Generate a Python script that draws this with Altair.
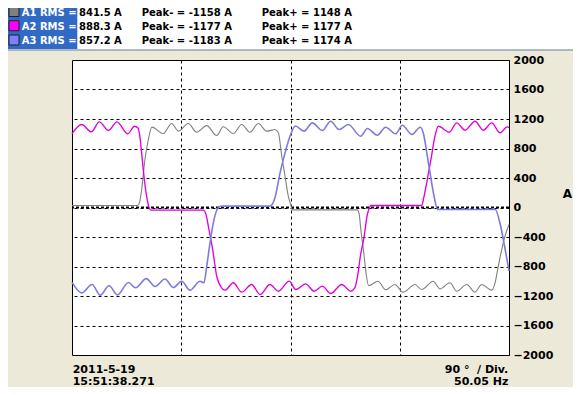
import altair as alt
import pandas as pd

# ---------------- data ----------------
names = ["A1", "A2", "A3"]
row_labels = ["A1 RMS =", "A2 RMS =", "A3 RMS ="]
rms_values = [841.5, 888.3, 857.2]
peak_minus = [-1158, -1177, -1183]
peak_plus = [1148, 1177, 1174]

y_ticks = list(range(-2000, 2001, 400))
x_grid = [90, 180, 270]

date_txt = "2011-5-19"
time_txt = "15:51:38.271"
div_txt = "90 \u00b0\u00a0\u00a0/ Div."
freq_txt = "50.05 Hz"
unit_txt = "A"

# phase angle (degrees) and current (A)
a1_deg = [0, 54, 55.5, 57.4, 60.1, 62.9, 65.8, 75.2, 82.1, 87.6, 95.8, 102.7, 111, 119.2,
          124.6, 132.9, 139.8, 146.6, 153.5, 160.4, 167.2, 170, 172.8, 175.5, 178.2, 180.1,
          181.5, 235, 236.5, 237.8, 240.5, 242.4, 244.4, 252, 258.5, 266, 272.7, 282.6, 288,
          297.6, 303.1, 311.4, 316.9, 325.2, 332, 337.5, 345.8, 348.5, 351.2, 354, 356.7, 360]
a1_amp = [27, 27, 60, 244, 651, 922, 1090, 1003, 1139, 1035, 1139, 1021, 1110, 976,
          1094, 1003, 1125, 1021, 1139, 1035, 1057, 1013, 696, 424, 153, 41,
          -32, -32, -80, -276, -637, -908, -1060, -1000, -1115, -1044, -1150, -1044, -1112,
          -999, -1103, -1021, -1135, -1044, -1148, -1044, -1121, -1021, -796, -570, -389, -231]

a2_deg = [0, 8, 16, 22.5, 30, 37, 46, 51.5, 54.5, 56, 57.5, 59.3, 61.5, 63.5, 65,
          108.2, 110.5, 112.3, 115.9, 119.2, 123.3, 126, 132.9, 139.8, 148, 154.9, 163.1,
          170, 179, 184.3, 192.5, 199.4, 206.3, 213.1, 222.2, 229.6, 233, 235, 237.8, 240.5,
          243.3, 245.2, 246.5, 288, 290, 292.2, 295.7, 299, 301.8, 310.8, 316.9, 323.8, 332,
          338.8, 345.8, 352.6, 358.6, 360]
a2_amp = [1000, 1125, 1026, 1162, 1044, 1162, 999, 1102, 1075, 950, 720, 424, 150, 0, -36,
          -36, -100, -253, -570, -931, -1089, -1121, -1021, -1148, -1044, -1180, -1044,
          -1135, -999, -1112, -1035, -1135, -1067, -1166, -1044, -1135, -1090, -954, -637, -411,
          -95, 4, 27, 27, 150, 335, 651, 967, 1102, 1021, 1148, 1048, 1170,
          1048, 1148, 1013, 1094, 1080]

a3_deg = [0, 8, 16.5, 23.3, 30.5, 37.5, 46.5, 52.3, 61.2, 68.4, 76.6, 83.5, 90.4, 97.2,
          105.5, 108.7, 111, 113.7, 116.4, 120.5, 123.3, 163.1, 167.2, 171.4, 175.5, 179.6,
          184, 191.1, 198, 206.2, 213.1, 220, 227.6, 237.8, 243.3, 251.5, 258.4, 266.6, 272.1,
          280.1, 286.9, 289.7, 292.5, 295.2, 298, 301.3, 348.7, 352.8, 356.1, 360]
a3_amp = [-1015, -1157, -1044, -1189, -1062, -1185, -1017, -1089, -965, -1071, -970, -1085,
          -1000, -1121, -999, -1021, -796, -479, -208, -4, 18, 18, 131, 470, 741, 967,
          1105, 1035, 1148, 1044, 1170, 1057, 1125, 967, 1071, 980, 1089, 999, 1116,
          990, 1089, 990, 719, 447, 176, -27, -27, -231, -502, -860]

# ---------------- styles ----------------
line_colors = ["#808080", "#E000E0", "#7C7CDC"]
swatch_colors = ["#808080", "#FF00FF", "#8080FF"]
FONT = "DejaVu Sans"

wave = pd.concat([
    pd.DataFrame({"deg": d, "amp": a, "ch": n})
    for d, a, n in [(a1_deg, a1_amp, "A1"), (a2_deg, a2_amp, "A2"), (a3_deg, a3_amp, "A3")]
], ignore_index=True)

hdr = pd.DataFrame({
    "row": [0, 1, 2],
    "ch": names,
    "label": row_labels,
    "rms": [f"{v:.1f} A" for v in rms_values],
    "pm": [f"Peak- = {v} A" for v in peak_minus],
    "pp": [f"Peak+ = {v} A" for v in peak_plus],
})

one = pd.DataFrame({"k": [0]})

# header backgrounds
hdr_bg = alt.Chart(one).mark_rect(color="white").encode(
    x=alt.value(-64), x2=alt.value(501), y=alt.value(-52), y2=alt.value(-10))
hdr_blue = alt.Chart(one).mark_rect(color="#316AC5").encode(
    x=alt.value(-64), x2=alt.value(5.3), y=alt.value(-52), y2=alt.value(-11))
hdr_line = alt.Chart(one).mark_rule(color="#8FA3C0", strokeWidth=1.5).encode(
    x=alt.value(-64), x2=alt.value(501), y=alt.value(-10))

hbase = alt.Chart(hdr).transform_calculate(
    yb="-44.5 + datum.row * 14.25",
    ys0="-53.5 + datum.row * 14.25",
    ys1="-43.5 + datum.row * 14.25",
)
swatch = hbase.mark_rect(stroke="#202020", strokeWidth=1).encode(
    x=alt.value(-63), x2=alt.value(-53),
    y=alt.Y("ys0:Q", scale=None), y2="ys1:Q",
    color=alt.Color("ch:N", scale=alt.Scale(domain=names, range=swatch_colors), legend=None),
)

def htext(field, xpos, color):
    return hbase.mark_text(align="left", baseline="alphabetic", font=FONT, fontWeight="bold",
                           fontSize=10, color=color).encode(
        x=alt.value(xpos), y=alt.Y("yb:Q", scale=None), text=f"{field}:N")

t_label = htext("label", -50.3, "white")
t_rms = htext("rms", 7, "black")
t_pm = htext("pm", 69.7, "black")
t_pp = htext("pp", 189.7, "black")

# waveform lines
lines = alt.Chart(wave).mark_line(interpolate="monotone").encode(
    x=alt.X("deg:Q", scale=alt.Scale(domain=[0, 360], nice=False, zero=False),
            axis=alt.Axis(values=x_grid, tickCount=10, grid=True, gridDash=[3, 3],
                          gridColor="black", gridOpacity=1, labels=False, ticks=False,
                          domain=False, title=None)),
    y=alt.Y("amp:Q", scale=alt.Scale(domain=[-2000, 2000], nice=False),
            axis=alt.Axis(orient="right", values=y_ticks, tickCount=20, grid=True,
                          gridDash=[3, 3], gridColor="black", gridOpacity=1, ticks=False,
                          domain=False, title=None, format="d", labelOverlap=False,
                          labelFont=FONT, labelFontWeight="bold", labelFontSize=11,
                          labelColor="black", labelPadding=4)),
    color=alt.Color("ch:N", scale=alt.Scale(domain=names, range=line_colors), legend=None),
    strokeWidth=alt.StrokeWidth("ch:N", scale=alt.Scale(domain=names, range=[1.1, 1.6, 1.1]),
                                legend=None),
    order=alt.Order("ch:N"),
)

zero_rule = alt.Chart(pd.DataFrame({"amp": [0]})).mark_rule(
    color="black", strokeWidth=2, strokeDash=[3, 2]).encode(y="amp:Q")

def ftext(txt, xpos, ypos, align="left", size=11):
    return alt.Chart(pd.DataFrame({"t": [txt]})).mark_text(
        align=align, baseline="alphabetic", font=FONT, fontWeight="bold", fontSize=size,
        color="black").encode(x=alt.value(xpos), y=alt.value(ypos), text="t:N")

t_date = ftext(date_txt, 0.7, 313)
t_time = ftext(time_txt, 0.7, 324.5)
t_div = ftext(div_txt, 436.3, 313, align="right")
t_freq = ftext(freq_txt, 436.3, 324.5, align="right")
t_unit = ftext(unit_txt, 500, 138, align="right", size=12)

chart = alt.layer(
    hdr_bg, hdr_blue, hdr_line, swatch, t_label, t_rms, t_pm, t_pp,
    zero_rule, lines, t_date, t_time, t_div, t_freq, t_unit,
).resolve_scale(color="independent").properties(
    width=437, height=295,
    autosize=alt.AutoSizeParams(type="none"),
    padding={"left": 64, "top": 52, "right": 64, "bottom": 32},
    background="#ECE9D8",
).configure_view(fill="white", stroke="black", strokeWidth=1)

chart.save("out.html", embed_options={"renderer": "svg", "actions": False})
